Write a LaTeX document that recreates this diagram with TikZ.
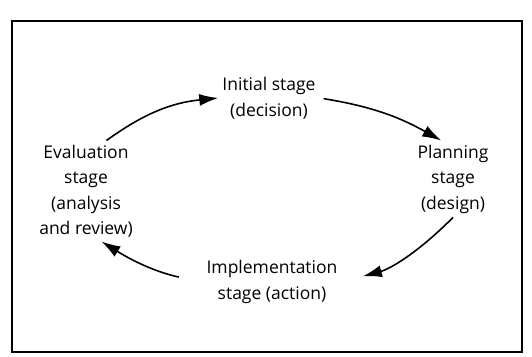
\documentclass[tikz,border=0pt]{standalone}
\usepackage{fontspec}
\setmainfont{Open Sans}
\usetikzlibrary{arrows.meta}

\begin{document}
\begin{tikzpicture}[x=1pt,y=1pt,
    stage/.style={align=center,inner sep=4pt,font=\fontsize{17.5}{25.5}\selectfont},
    cyc/.style={line width=1.6pt,-{Latex[length=19pt,width=12pt]}}]
    \useasboundingbox (0,0) rectangle (532,-356);
    \draw [line width=1.5pt] (12,-21) rectangle (522,-352);
    \node [stage] (init) at (269,-98)  {Initial stage\\(decision)};
    \node [stage] (plan) at (453,-179) {Planning\\stage\\(design)};
    \node [stage] (impl) at (272,-282) {Implementation\\stage (action)};
    \node [stage] (eval) at (86,-191)  {Evaluation\\stage\\(analysis\\and review)};
    \draw [cyc] (eval.68) to [bend left=15] (init.west);
    \draw [cyc,shorten <=4pt] (init.east) to [bend left=10] (plan.107);
    \draw [cyc,shorten >=22pt] (plan.south) to [bend left=15] (impl.east);
    \draw [cyc,shorten <=24pt] (impl.west) to [bend left=10] (eval.-73);
\end{tikzpicture}
\end{document}
